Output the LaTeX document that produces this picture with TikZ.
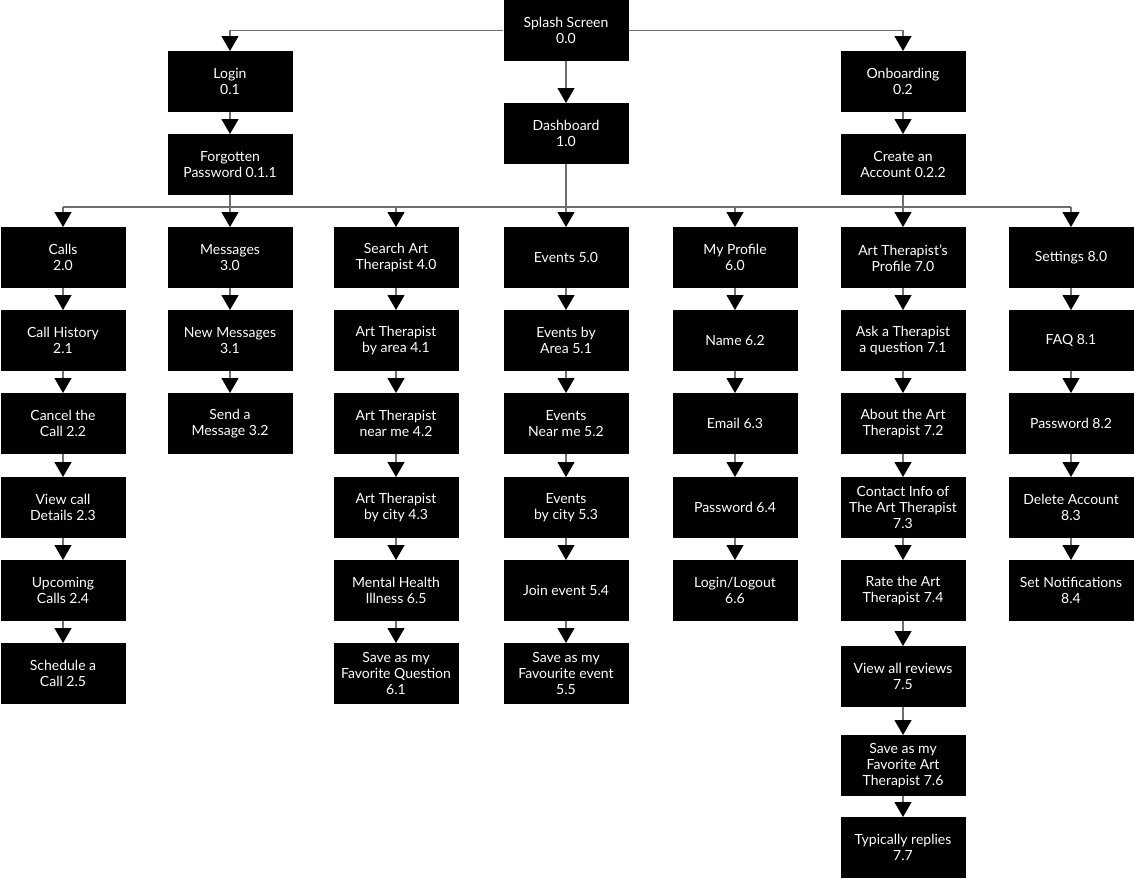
\documentclass[tikz,border=0pt]{standalone}
\usepackage{fontspec}
\setmainfont{Lato}
\usetikzlibrary{arrows.meta}
\definecolor{wire}{HTML}{6E6E6E}

\begin{document}
\begin{tikzpicture}[x=1pt, y=-1pt,
        every node/.style = {shape=rectangle, fill=black, text=white, align=center, anchor=north,
            minimum width=125pt, minimum height=61pt, inner sep=0pt,
            font=\fontsize{14}{16}\selectfont},
        wire/.style = {draw=wire, line width=1.2pt},
        link/.style = {wire, -{Triangle[width=17pt, length=15pt, black]}}]
    \useasboundingbox (0,0) rectangle (1134,878);

    % top screens
    \node (s00) at (566,0) {Splash Screen \\ 0.0};
    \node (s01) at (230,51) {Login \\ 0.1};
    \node (s011) at (230,134) {Forgotten \\ Password 0.1.1};
    \node (s10) at (566,103) {Dashboard \\ 1.0};
    \node (s02) at (903,51) {Onboarding \\ 0.2};
    \node (s022) at (903,134) {Create an \\ Account 0.2.2};

    % calls
    \node (s20) at (63,227) {Calls \\ 2.0};
    \node (s21) at (63,310) {Call History \\ 2.1};
    \node (s22) at (63,393) {Cancel the \\ Call 2.2};
    \node (s23) at (63,477) {View call \\ Details 2.3};
    \node (s24) at (63,560) {Upcoming \\ Calls 2.4};
    \node (s25) at (63,643) {Schedule a \\ Call 2.5};

    % messages
    \node (s30) at (230,227) {Messages \\ 3.0};
    \node (s31) at (230,310) {New Messages \\ 3.1};
    \node (s32) at (230,393) {Send a \\ Message 3.2};

    % search
    \node (s40) at (396,227) {Search Art \\ Therapist 4.0};
    \node (s41) at (396,310) {Art Therapist \\ by area 4.1};
    \node (s42) at (396,393) {Art Therapist \\ near me 4.2};
    \node (s43) at (396,477) {Art Therapist \\ by city 4.3};
    \node (s65) at (396,560) {Mental Health \\ Illness 6.5};
    \node (s61) at (396,643) {Save as my \\ Favorite Question \\ 6.1};

    % events
    \node (s50) at (566,227) {Events 5.0};
    \node (s51) at (566,310) {Events by \\ Area 5.1};
    \node (s52) at (566,393) {Events \\ Near me 5.2};
    \node (s53) at (566,477) {Events \\ by city 5.3};
    \node (s54) at (566,560) {Join event 5.4};
    \node (s55) at (566,643) {Save as my \\ Favourite event \\ 5.5};

    % my profile
    \node (s60) at (735,227) {My Profile \\ 6.0};
    \node (s62) at (735,310) {Name 6.2};
    \node (s63) at (735,393) {Email 6.3};
    \node (s64) at (735,477) {Password 6.4};
    \node (s66) at (735,560) {Login/Logout \\ 6.6};

    % art therapist's profile
    \node (s70) at (903,227) {Art Therapist’s \\ Profile 7.0};
    \node (s71) at (903,310) {Ask a Therapist \\ a question 7.1};
    \node (s72) at (903,393) {About the Art \\ Therapist 7.2};
    \node (s73) at (903,477) {Contact Info of \\ The Art Therapist \\ 7.3};
    \node (s74) at (903,560) {Rate the Art \\ Therapist 7.4};
    \node (s75) at (903,646) {View all reviews \\ 7.5};
    \node (s76) at (903,735) {Save as my \\ Favorite Art \\ Therapist 7.6};
    \node (s77) at (903,817) {Typically replies \\ 7.7};

    % settings
    \node (s80) at (1071,227) {Settings 8.0};
    \node (s81) at (1071,310) {FAQ 8.1};
    \node (s82) at (1071,393) {Password 8.2};
    \node (s83) at (1071,477) {Delete Account \\ 8.3};
    \node (s84) at (1071,560) {Set Notifications \\ 8.4};

    \coordinate (bus) at (566,207);

    \draw[link] (s00.west) -| (s01.north);
    \draw[link] (s00.east) -| (s02.north);
    \draw[link] (s00.south) -- (s10.north);
    \draw[wire] (s20.north |- bus) -- (s80.north |- bus);
    \draw[link] (s011.south) -- (s30.north);
    \draw[link] (s10.south) -- (s50.north);
    \draw[link] (s022.south) -- (s70.north);
    \foreach \n in {s20,s40,s60,s80}
        \draw[link] (\n.north |- bus) -- (\n.north);
    \foreach \a/\b in {s01/s011, s02/s022,
            s20/s21, s21/s22, s22/s23, s23/s24, s24/s25,
            s30/s31, s31/s32,
            s40/s41, s41/s42, s42/s43, s43/s65, s65/s61,
            s50/s51, s51/s52, s52/s53, s53/s54, s54/s55,
            s60/s62, s62/s63, s63/s64, s64/s66,
            s70/s71, s71/s72, s72/s73, s73/s74, s74/s75, s75/s76, s76/s77,
            s80/s81, s81/s82, s82/s83, s83/s84}
        \draw[link] (\a.south) -- (\b.north);
\end{tikzpicture}
\end{document}
